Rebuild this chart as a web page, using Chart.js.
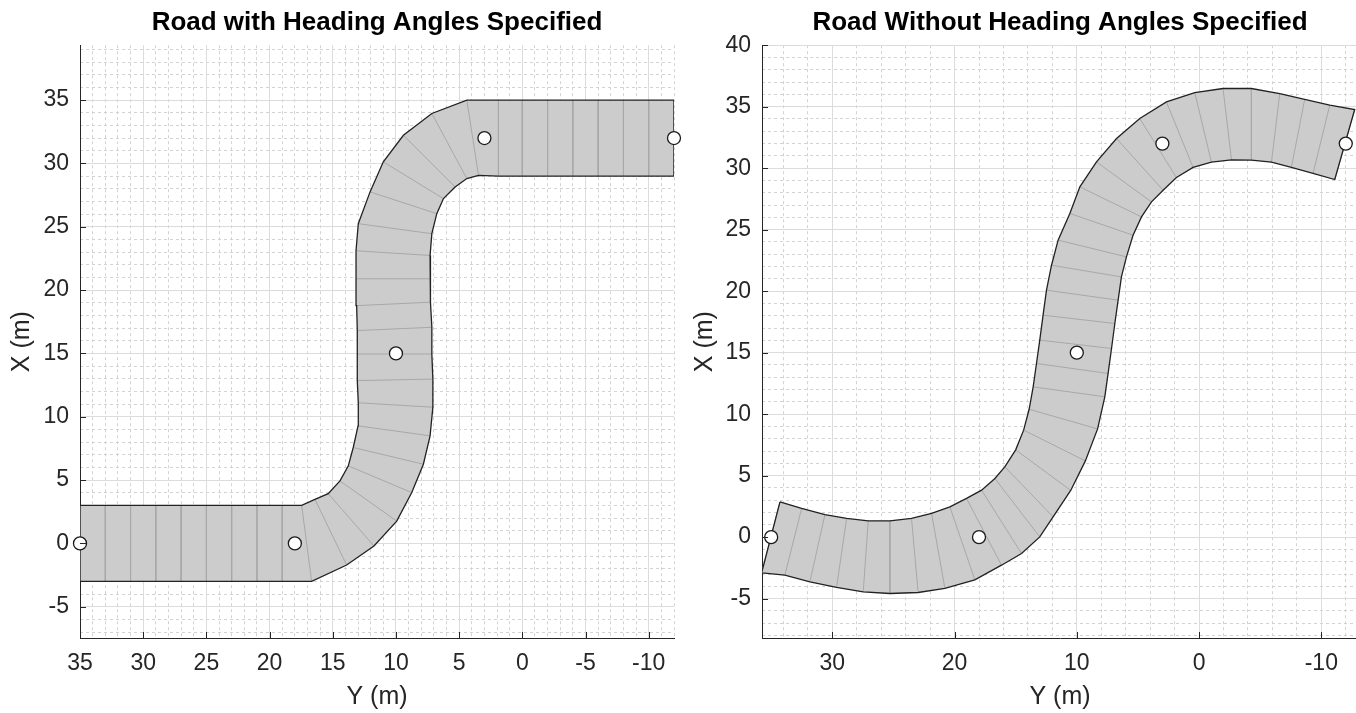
<!DOCTYPE html>
<html>
<head>
<meta charset="utf-8">
<script src="https://cdn.jsdelivr.net/npm/chart.js@4/dist/chart.umd.min.js"></script>
<style>
    html, body { margin: 0; padding: 0; background: #fff; overflow: hidden; }
    .pane { position: absolute; top: 0; height: 713px; }
    #paneHead { left: 0; width: 754px; }
    #paneFree { left: 680px; width: 760px; }
</style>
</head>
<body>
<div id="paneHead" class="pane"><canvas id="roadHead" width="754" height="713"></canvas></div>
<div id="paneFree" class="pane"><canvas id="roadFree" width="760" height="713"></canvas></div>
<script>
        // road centers (waypoints), same for both roads: X (m) and Y (m)
        const centerX = [0, 0, 15, 32, 32];
        const centerY = [35, 18, 10, 3, -12];

        // road with heading angles: left / right edge vertices (Y, X), one section per index
        const headLeftY = [35, 33, 31, 29, 27, 25, 23, 21, 19, 17.46, 16.41, 15.36, 14.43, 13.77, 13.38, 13.0, 12.98,
            13.06, 13.06, 13.06, 13.11, 13.16, 13.16, 12.98, 12.05, 11.0, 9.41, 7.16, 4.39, 1.89, 0, -2, -4, -6, -8, -10, -12];
        const headLeftX = [3, 3, 3, 3, 3, 3, 3, 3, 3, 3.0, 3.48, 3.93, 4.93, 6.12, 7.57, 9.28, 11.1,
            12.85, 14.95, 16.8, 18.77, 20.89, 23.1, 25.24, 27.75, 30.12, 32.22, 33.94, 34.99, 35, 35, 35, 35, 35, 35, 35, 35];
        const headRightY = [35, 33, 31, 29, 27, 25, 23, 21, 19, 16.67, 13.9, 11.74, 9.94, 8.75, 7.83, 7.3, 7.08,
            7.08, 7.16, 7.16, 7.24, 7.3, 7.3, 7.16, 6.77, 6.24, 5.32, 4.39, 3.47, 1.89, 0, -2, -4, -6, -8, -10, -12];
        const headRightX = [-3, -3, -3, -3, -3, -3, -3, -3, -3, -3, -1.71, -0.21, 1.76, 4.01, 6.25, 8.49, 10.75,
            12.97, 14.95, 17.06, 19.04, 20.89, 22.73, 24.45, 26.03, 27.22, 28.14, 28.8, 29.06, 29, 29, 29, 29, 29, 29, 29, 29];

        // road without heading angles
        const freeLeftY = [34.28, 32.51, 30.6, 28.83, 27.06, 25.29, 23.52, 21.88, 20.38, 19.02, 17.79, 16.7, 15.89, 15.0, 14.35, 13.9,
            13.57, 13.3, 13.03, 12.76, 12.48, 12.07,
            11.53, 10.57, 9.75, 8.39, 6.75, 4.85, 2.67, 0.35, -1.96, -4.28, -6.6, -8.64, -10.69, -12.73];
        const freeLeftX = [2.87, 2.33, 1.84, 1.52, 1.33, 1.33, 1.52, 1.93, 2.46, 3.15, 3.82, 4.77, 5.72, 7.1, 8.7, 10.4,
            12.22, 14.12, 16.02, 18.05, 20.08, 22.11,
            24.15, 26.32, 28.48, 30.51, 32.41, 34.04, 35.39, 36.15, 36.48, 36.48, 36.07, 35.59, 35.12, 34.77];
        const freeRightY = [35.78, 33.88, 31.83, 29.65, 27.47, 25.29, 22.98, 20.79, 18.34, 16.16, 14.52, 13.03, 11.94, 10.5, 9.3, 8.3,
            7.71, 7.44, 7.16, 6.89, 6.62, 6.35,
            5.94, 5.4, 4.71, 3.89, 2.94, 1.85, 0.49, -1.01, -2.65, -4.28, -5.92, -7.55, -9.32, -11.1];
        const freeRightX = [-2.9, -3.09, -3.63, -4.09, -4.45, -4.58, -4.5, -4.17, -3.47, -2.28, -1.33, 0.02, 1.65, 3.8, 6.2, 8.8,
            11.41, 13.31, 15.34, 17.37, 19.27, 21.16,
            22.79, 24.55, 26.04, 27.26, 28.21, 29.24, 30.06, 30.49, 30.68, 30.65, 30.49, 30.06, 29.57, 29.08];

        // tick labels
        const headTicksY = [-10, -5, 0, 5, 10, 15, 20, 25, 30, 35];
        const headTicksX = [-5, 0, 5, 10, 15, 20, 25, 30, 35];
        const freeTicksY = [-10, 0, 10, 20, 30];
        const freeTicksX = [-5, 0, 5, 10, 15, 20, 25, 30, 35, 40];

        const FONT = "'Liberation Sans', Arial, Helvetica, sans-serif";
        const AXIS_COLOR = '#262626';

        function toPoints(ys, xs) {
            return ys.map((y, i) => ({ x: y, y: xs[i] }));
        }

        function outline(lY, lX, rY, rX) {
            const pts = toPoints(lY, lX).concat(toPoints(rY, rX).reverse());
            pts.push(pts[0]);
            return pts;
        }

        function sections(lY, lX, rY, rX) {
            const pts = [];
            lY.forEach((y, i) => {
                pts.push({ x: y, y: lX[i] }, { x: rY[i], y: rX[i] }, { x: null, y: null });
            });
            return pts;
        }

        // MATLAB style tick marks pointing into the plot box
        const inwardTicks = {
            id: 'inwardTicks',
            afterDatasetsDraw(chart) {
                const { ctx, chartArea } = chart;
                const xs = chart.scales.x, ys = chart.scales.y;
                ctx.save();
                ctx.strokeStyle = AXIS_COLOR;
                ctx.lineWidth = 1;
                ctx.beginPath();
                xs.ticks.forEach(t => {
                    const p = Math.round(xs.getPixelForValue(t.value)) + 0.5;
                    ctx.moveTo(p, chartArea.bottom);
                    ctx.lineTo(p, chartArea.bottom - 6);
                });
                ys.ticks.forEach(t => {
                    const p = Math.round(ys.getPixelForValue(t.value)) + 0.5;
                    ctx.moveTo(chartArea.left, p);
                    ctx.lineTo(chartArea.left + 6, p);
                });
                ctx.stroke();
                ctx.restore();
            }
        };

        // dotted minor grid; the vertical one sits on the right and mirrors the
        // tick-label width so the title ends up centred over the plot box
        function minorAxis(min, max, step, major, reverse, horizontal, size) {
            return {
                type: 'linear',
                position: horizontal ? 'bottom' : 'right',
                reverse: reverse,
                min: min,
                max: max,
                ticks: { display: false, stepSize: step, includeBounds: false, maxTicksLimit: 1000 },
                grid: {
                    drawTicks: false,
                    lineWidth: 1,
                    color: c => (c.tick && Math.abs(c.tick.value % major) < 1e-6) ? 'rgba(0,0,0,0)' : '#d3d3d3'
                },
                border: { display: false, dash: [3, 3] },
                afterFit: s => { if (horizontal) s.height = 0; else s.width = size; }
            };
        }

        function makeRoadChart(cfg) {
            const ctx = document.getElementById(cfg.canvas).getContext('2d');
            const shape = outline(cfg.lY, cfg.lX, cfg.rY, cfg.rX);
            return new Chart(ctx, {
                type: 'scatter',
                data: {
                    datasets: [
                        {
                            label: 'waypoints',
                            data: toPoints(centerY, centerX),
                            pointRadius: 6.5,
                            pointBackgroundColor: '#ffffff',
                            pointBorderColor: '#1a1a1a',
                            pointBorderWidth: 1.3,
                            clip: false
                        },
                        {
                            label: 'edges',
                            data: shape,
                            showLine: true,
                            borderColor: '#222222',
                            borderWidth: 1.3,
                            pointRadius: 0,
                            fill: false
                        },
                        {
                            label: 'sections',
                            data: sections(cfg.lY, cfg.lX, cfg.rY, cfg.rX),
                            showLine: true,
                            spanGaps: false,
                            borderColor: '#a8a8a8',
                            borderWidth: 1,
                            pointRadius: 0,
                            fill: false
                        },
                        {
                            label: 'surface',
                            data: shape,
                            showLine: true,
                            borderColor: 'rgba(0,0,0,0)',
                            borderWidth: 0,
                            backgroundColor: '#cccccc',
                            pointRadius: 0,
                            fill: 'shape'
                        }
                    ]
                },
                options: {
                    responsive: false,
                    animation: false,
                    devicePixelRatio: 1,
                    layout: { padding: cfg.padding },
                    plugins: {
                        legend: { display: false },
                        tooltip: { enabled: false },
                        title: {
                            display: true,
                            text: cfg.title,
                            color: '#000000',
                            font: { family: FONT, size: 26, weight: 'bold' },
                            padding: { top: 7, bottom: 7 }
                        }
                    },
                    scales: {
                        xm: minorAxis(cfg.xMin, cfg.xMax, cfg.xMinor, cfg.xMajor, true, true, 0),
                        ym: minorAxis(cfg.yMin, cfg.yMax, 1, 5, false, false, cfg.yWidth),
                        x: {
                            type: 'linear',
                            position: 'bottom',
                            reverse: true,
                            min: cfg.xMin,
                            max: cfg.xMax,
                            afterBuildTicks: s => { s.ticks = cfg.xTicks.map(v => ({ value: v })); },
                            afterFit: s => { s.height = 75; },
                            ticks: {
                                autoSkip: false, maxRotation: 0, padding: 12,
                                color: AXIS_COLOR,
                                font: { family: FONT, size: 23 },
                                callback: v => String(v)
                            },
                            grid: { color: '#dcdcdc', lineWidth: 1, drawTicks: false },
                            border: { color: AXIS_COLOR, width: 1 },
                            title: {
                                display: true, text: 'Y (m)', color: AXIS_COLOR,
                                font: { family: FONT, size: 25 },
                                padding: { top: 0, bottom: 1 }
                            }
                        },
                        y: {
                            type: 'linear',
                            position: 'left',
                            min: cfg.yMin,
                            max: cfg.yMax,
                            afterBuildTicks: s => { s.ticks = cfg.yTicks.map(v => ({ value: v })); },
                            afterFit: s => { s.width = cfg.yWidth; },
                            ticks: {
                                autoSkip: false, padding: 11,
                                color: AXIS_COLOR,
                                font: { family: FONT, size: 23 },
                                callback: v => String(v)
                            },
                            grid: { color: '#dcdcdc', lineWidth: 1, drawTicks: false },
                            border: { color: AXIS_COLOR, width: 1 },
                            title: {
                                display: true, text: 'X (m)', color: AXIS_COLOR,
                                font: { family: FONT, size: 25 },
                                padding: { top: 7, bottom: 0 }
                            }
                        }
                    }
                },
                plugins: [inwardTicks]
            });
        }

        makeRoadChart({
            canvas: 'roadHead',
            title: 'Road with Heading Angles Specified',
            lY: headLeftY, lX: headLeftX, rY: headRightY, rX: headRightX,
            xMin: -12, xMax: 35, yMin: -7.47, yMax: 39.33,
            xTicks: headTicksY, yTicks: headTicksX,
            xMinor: 1, xMajor: 5,
            yWidth: 80,
            padding: { left: 0, right: 0, top: 0, bottom: 0 }
        });

        makeRoadChart({
            canvas: 'roadFree',
            title: 'Road Without Heading Angles Specified',
            lY: freeLeftY, lX: freeLeftX, rY: freeRightY, rX: freeRightX,
            xMin: -13, xMax: 35.75, yMin: -8.2, yMax: 40,
            xTicks: freeTicksY, yTicks: freeTicksX,
            xMinor: 2, xMajor: 10,
            yWidth: 79,
            padding: { left: 3, right: 3, top: 0, bottom: 0 }
        });
</script>
</body>
</html>
